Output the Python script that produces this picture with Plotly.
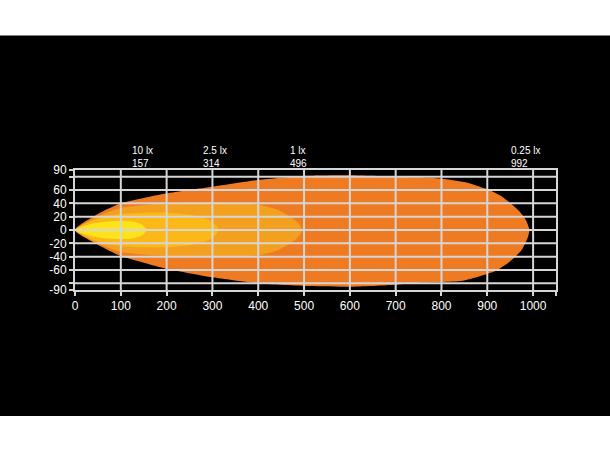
import plotly.graph_objects as go

# ---------------- data ----------------
x_ticks = [0, 100, 200, 300, 400, 500, 600, 700, 800, 900, 1000]
y_ticks = [-90, -80, -60, -40, -20, 0, 20, 40, 60, 80, 90]
y_tick_text = ["-90", "", "-60", "-40", "-20", "0", "20", "40", "60", "", "90"]

lux_labels = ["10 lx", "2.5 lx", "1 lx", "0.25 lx"]
lux_dist = [157, 314, 496, 992]

# 0.25 lx contour (outer)
c025_top_x = [0, 50, 100, 150, 200, 300, 400, 500, 600, 700, 750, 800, 850, 900, 930, 951, 970, 985, 992]
c025_top_y = [0, 24, 40, 48, 55, 65, 75, 81, 82, 80, 79, 77, 72, 61, 51, 40, 28, 14, 0]
c025_bot_x = [988, 975, 950, 919, 880, 846, 800, 752, 700, 600, 500, 400, 300, 200, 150, 100, 50, 0]
c025_bot_y = [-12, -30, -47, -61, -70, -76, -78, -79, -82, -85, -84, -80, -71, -58, -49, -39, -22, 0]

# 1 lx contour
c1_top_x = [0, 50, 100, 200, 300, 400, 440, 465, 485, 496]
c1_top_y = [0, 20, 33, 40, 42, 38, 31, 22, 12, 0]
c1_bot_x = [485, 465, 440, 400, 300, 200, 100, 50, 0]
c1_bot_y = [-12, -22, -31, -38, -40, -39, -33, -20, 0]

# 2.5 lx contour
c25_top_x = [0, 30, 60, 100, 150, 200, 250, 280, 300, 314]
c25_top_y = [0, 12, 19, 24, 26, 26, 23, 18, 12, 0]
c25_bot_x = [300, 280, 250, 200, 150, 100, 60, 30, 0]
c25_bot_y = [-12, -18, -23, -26, -26, -24, -19, -12, 0]

# 10 lx contour
c10_top_x = [0, 15, 35, 60, 90, 120, 140, 150, 157]
c10_top_y = [0, 5, 9, 12, 13.5, 13, 10, 6, 0]
c10_bot_x = [150, 140, 120, 90, 60, 35, 15, 0]
c10_bot_y = [-6, -10, -13, -13.5, -12, -9, -5, 0]

contours = [
    (c025_top_x + c025_bot_x, c025_top_y + c025_bot_y, "#EE7A22"),
    (c1_top_x + c1_bot_x, c1_top_y + c1_bot_y, "#F4A01F"),
    (c25_top_x + c25_bot_x, c25_top_y + c25_bot_y, "#FBB816"),
    (c10_top_x + c10_bot_x, c10_top_y + c10_bot_y, "#FDE41A"),
]

X_MAX = 1050
Y_MIN, Y_MAX = -90, 90
GRID = "#D6D6D6"
FONT = "Liberation Sans"

fig = go.Figure()
for xs, ys, col in contours:
    fig.add_trace(go.Scatter(x=xs, y=ys, mode="lines", fill="toself",
                             fillcolor=col, line=dict(width=0, color=col, shape="spline", smoothing=0.6),
                             hoverinfo="skip", showlegend=False))

# grid lines drawn above the fills
gx, gy = [], []
for xv in x_ticks[1:]:
    gx += [xv, xv, None]
    gy += [Y_MIN, Y_MAX, None]
for yv in y_ticks[1:-1]:
    gx += [0, X_MAX, None]
    gy += [yv, yv, None]
fig.add_trace(go.Scatter(x=gx, y=gy, mode="lines", line=dict(color=GRID, width=2),
                         hoverinfo="skip", showlegend=False))

# black band behind the chart
fig.add_shape(type="rect", xref="paper", yref="paper", x0=-1, x1=2, y0=-1.05, y1=2.12,
              fillcolor="black", line=dict(width=0), layer="below")

for lab, d in zip(lux_labels, lux_dist):
    fig.add_annotation(x=d, y=1, xref="x", yref="paper", text=f"{lab}<br>{d}",
                       showarrow=False, align="left",
                       xanchor="center", yanchor="bottom", xshift=-4, yshift=-1,
                       font=dict(family=FONT, size=10, color="white"))

fig.update_layout(
    width=610, height=450,
    margin=dict(l=75, r=54, t=170, b=160),
    paper_bgcolor="white", plot_bgcolor="black",
    showlegend=False,
    xaxis=dict(range=[0, X_MAX], tickvals=x_ticks + [X_MAX],
               ticktext=[str(v) for v in x_ticks] + [""],
               showgrid=False, zeroline=False, showline=True, mirror=True,
               linecolor=GRID, linewidth=2, ticks="outside", ticklen=4,
               tickwidth=2, tickcolor=GRID, layer="above traces",
               tickfont=dict(family=FONT, size=12, color="white")),
    yaxis=dict(range=[Y_MIN, Y_MAX], tickvals=y_ticks, ticktext=y_tick_text,
               showgrid=False, zeroline=False, showline=True, mirror=True,
               linecolor=GRID, linewidth=2, ticks="outside", ticklen=4,
               tickwidth=2, tickcolor=GRID, layer="above traces",
               tickfont=dict(family=FONT, size=12, color="white")),
)

fig.write_html("out.html", config={"displayModeBar": False},
               post_script="document.body.style.margin='0';document.body.style.padding='0';")
